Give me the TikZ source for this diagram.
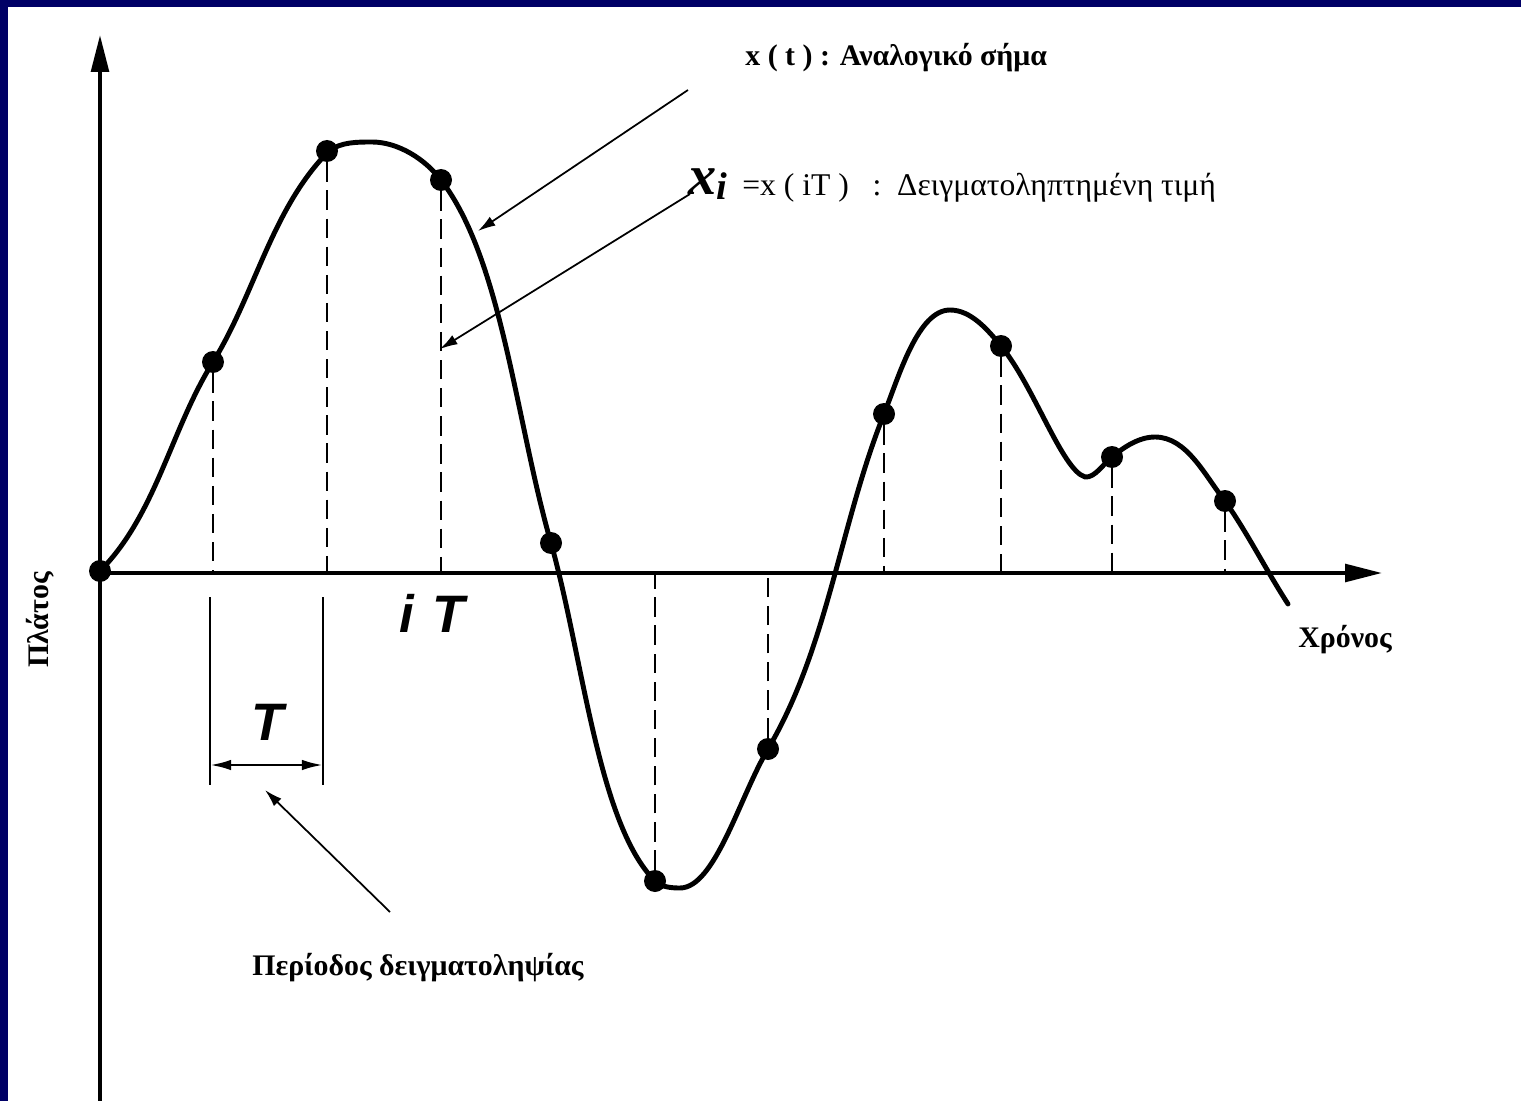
\documentclass[tikz,border=0pt]{standalone}
\usepackage{fontspec}
\setmainfont{Liberation Serif}
\setsansfont{Liberation Sans}
\usetikzlibrary{arrows.meta, positioning, calc}
\definecolor{framenavy}{RGB}{0,0,102}

\begin{document}
\begin{tikzpicture}[
    x=0.02cm, y=-0.02cm,
    % Styles
    axis/.style={
        line width=2.2pt,
        -{Triangle[length=21pt, width=10pt]}
    },
    signal/.style={
        line width=2.8pt,
        line cap=round,
        line join=round
    },
    sample/.style={
        circle,
        fill=black,
        inner sep=0pt,
        minimum size=0.44cm
    },
    drop/.style={
        line width=1.1pt,
        dash pattern=on 11pt off 5pt
    },
    pointer/.style={
        line width=1pt,
        -{Latex[length=10pt, width=6pt]}
    },
    period/.style={
        line width=1.3pt
    },
    dim/.style={
        line width=1.5pt,
        {Latex[length=12pt, width=6pt]}-{Latex[length=12pt, width=6pt]}
    },
    note/.style={
        font=\fontsize{17}{19}\selectfont\bfseries,
        inner sep=0pt
    },
    plain/.style={
        font=\fontsize{18}{20}\selectfont,
        inner sep=0pt
    },
    symb/.style={
        font=\sffamily\bfseries\itshape\fontsize{30}{32}\selectfont,
        inner sep=0pt
    }
]

% Frame
\fill[framenavy] (0,0) rectangle (1521,1101);
\fill[white] (8,7) rectangle (1521,1101);
\useasboundingbox (0,0) rectangle (1521,1101);

% Axes
\coordinate (o) at (100,573);
\coordinate (ytop) at (100,35);
\coordinate (ybot) at (100,1101);
\coordinate (xend) at (1382,573);
\draw[axis] (ybot) -- (ytop);
\draw[axis] (o) -- (xend);

% Analog signal
\draw[signal] (100,571)
    .. controls (156,515) and (171,429) .. (213,362)
    .. controls (255,294) and (272,208) .. (329,151)
    .. controls (341,142) and (357,142) .. (372,142)
    .. controls (398,142) and (425,159) .. (441,180)
    .. controls (502,259) and (516,422) .. (551,543)
    .. controls (583,657) and (598,824) .. (655,881)
    .. controls (661,887) and (671,888) .. (680,888)
    .. controls (715,888) and (740,796) .. (768,749)
    .. controls (828,647) and (840,524) .. (884,414)
    .. controls (899,376) and (918,310) .. (950,310)
    .. controls (971,310) and (988,330) .. (1001,346)
    .. controls (1034,386) and (1062,470) .. (1085,477)
    .. controls (1095,478) and (1103,464) .. (1112,457)
    .. controls (1124,447) and (1139,437) .. (1155,437)
    .. controls (1187,437) and (1205,476) .. (1225,501)
    .. controls (1248,534) and (1266,570) .. (1288,604);

% Samples
\foreach \n/\px/\py in {0/100/571, 1/213/362, 2/327/151, 3/441/180,
    4/551/543, 5/655/881, 6/768/749, 7/884/414, 8/1001/346,
    9/1112/457, 10/1225/501}
    \node[sample] (s\n) at (\px,\py) {};

% Sample drops
\foreach \n in {1,2,3,5,6,7,8,9,10}
    \draw[drop] (s\n) -- (s\n |- o);

% Sampling period
\coordinate (tl1) at (210,597);
\coordinate (tl2) at (210,785);
\coordinate (tr1) at (323,597);
\coordinate (tr2) at (323,785);
\draw[period] (tl1) -- (tl2);
\draw[period] (tr1) -- (tr2);
\coordinate (dl) at (210,765);
\coordinate (dr) at (323,765);
\draw[dim] (dl) -- (dr);
\node[symb] (tsym) at (268,722) {T};
\node[symb] (itsym) at (432,613) {i\,\,T};

% Labels
\node[note, anchor=west] (analog) at (745,58) {x ( t ) : Αναλογικό σήμα};
\node[inner sep=0pt, anchor=west] (xi) at (688,184)
    {\fontsize{32}{32}\selectfont\bfseries\itshape x\raisebox{-3pt}{\fontsize{22}{22}\selectfont i}};
\node[plain, anchor=west] (sampled) at (742,188)
    {=x ( iT )\ \ \ :\ \ Δειγματοληπτημένη τιμή};
\node[note] (periodlbl) at (418,968) {Περίοδος δειγματοληψίας};
\node[note] (time) at (1345,640) {Χρόνος};
\node[note, rotate=90] (ampl) at (40,620) {Πλάτος};

% Pointers
\coordinate (a1) at (688,90);
\coordinate (c1) at (478,231);
\draw[pointer] (a1) -- (c1);
\coordinate (a2) at (690,194);
\coordinate (c2) at (440,349);
\draw[pointer] (a2) -- (c2);
\coordinate (a3) at (390,912);
\coordinate (c3) at (265,790);
\draw[pointer] (a3) -- (c3);

\end{tikzpicture}
\end{document}
